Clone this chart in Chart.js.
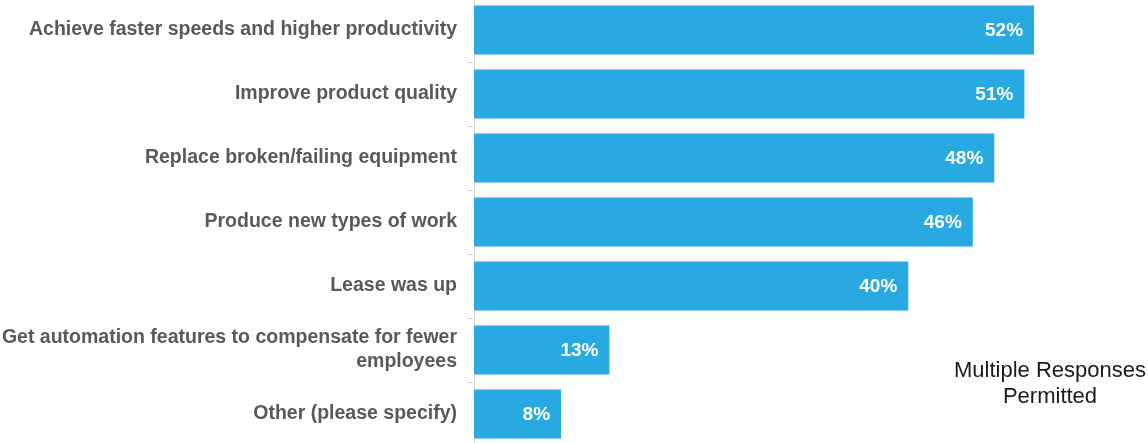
<!DOCTYPE html>
<html>
<head>
    <meta charset="UTF-8">
    <title>Reasons for new equipment</title>
    <style>
        html, body { margin: 0; padding: 0; background: #fff; overflow: hidden; }
        #wrap { position: absolute; left: 0; top: -2px; width: 1148px; height: 448px; }
    </style>
</head>
<body>
<div id="wrap">
    <canvas id="chart"></canvas>
</div>
<script src="https://cdn.jsdelivr.net/npm/chart.js"></script>
<script>
    // data
    var categories = [
        "Achieve faster speeds and higher productivity",
        "Improve product quality",
        "Replace broken/failing equipment",
        "Produce new types of work",
        "Lease was up",
        ["Get automation features to compensate for fewer", "employees"],
        "Other (please specify)"
    ];
    var percents = [52.1, 51.2, 48.4, 46.4, 40.4, 12.6, 8.1];
    var noteLines = ["Multiple Responses", "Permitted"];

    // white % labels inside the bar ends
    var barLabels = {
        id: "barLabels",
        afterDatasetsDraw: function (chart) {
            var ctx = chart.ctx;
            var meta = chart.getDatasetMeta(0);
            ctx.save();
            ctx.font = "bold 19px 'Liberation Sans', Arial, sans-serif";
            ctx.fillStyle = "#ffffff";
            ctx.textAlign = "right";
            ctx.textBaseline = "middle";
            meta.data.forEach(function (bar, i) {
                ctx.fillText(Math.round(percents[i]) + "%", bar.x - 11, bar.y + 1);
            });
            ctx.restore();
        }
    };

    // side note at the bottom right
    var sideNote = {
        id: "sideNote",
        afterDraw: function (chart) {
            var ctx = chart.ctx;
            ctx.save();
            ctx.font = "22px 'Liberation Sans', Arial, sans-serif";
            ctx.fillStyle = "#1a1a1a";
            ctx.textAlign = "center";
            ctx.textBaseline = "alphabetic";
            noteLines.forEach(function (t, i) {
                ctx.fillText(t, 1050, 379 + i * 26);
            });
            ctx.restore();
        }
    };

    var ctx = document.getElementById("chart").getContext("2d");
    new Chart(ctx, {
        type: "bar",
        data: {
            labels: categories,
            datasets: [{
                data: percents,
                backgroundColor: "#29a9e1",
                borderWidth: 0,
                barPercentage: 0.766,
                categoryPercentage: 1
            }]
        },
        options: {
            indexAxis: "y",
            responsive: true,
            maintainAspectRatio: false,
            animation: false,
            layout: { padding: { top: 0, right: 29, bottom: 0, left: 0 } },
            scales: {
                x: {
                    display: false,
                    min: 0,
                    max: 60
                },
                y: {
                    afterFit: function (scale) {
                        scale.width = 474;
                        scale.paddingTop = 0;
                        scale.paddingBottom = 0;
                    },
                    border: { display: true, color: "#d9d9d9", width: 1 },
                    grid: {
                        display: true,
                        drawOnChartArea: false,
                        tickLength: 7,
                        color: "#d9d9d9",
                        offset: true
                    },
                    ticks: {
                        padding: 10,
                        color: "#595959",
                        font: { family: "'Liberation Sans', Arial, sans-serif", size: 19.5, weight: "bold", lineHeight: 1.24 }
                    }
                }
            },
            plugins: {
                legend: { display: false },
                tooltip: { enabled: false }
            }
        },
        plugins: [barLabels, sideNote]
    });
</script>
</body>
</html>
